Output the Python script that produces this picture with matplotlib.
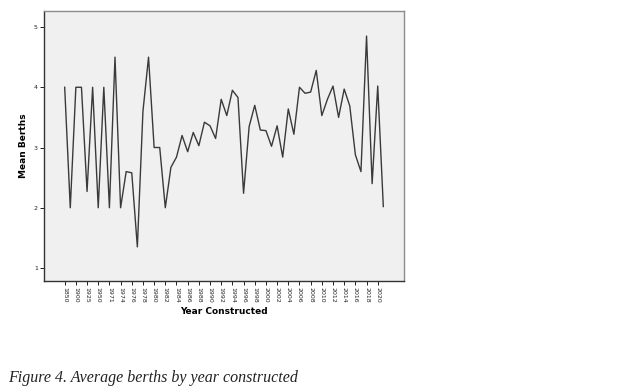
import matplotlib
matplotlib.use("Agg")
import matplotlib.pyplot as plt
import numpy as np

# Mean berths per construction-year category (58 categories)
mean_berths = [4.0, 2.0, 4.0, 4.0, 2.27, 4.0, 2.0, 4.0, 2.0, 4.5,
               2.0, 2.6, 2.58, 1.35, 3.6, 4.5, 3.0, 3.0, 2.0, 2.67,
               2.84, 3.2, 2.93, 3.25, 3.03, 3.42, 3.36, 3.15, 3.8, 3.53,
               3.95, 3.83, 2.24, 3.35, 3.7, 3.29, 3.28, 3.02, 3.36, 2.84,
               3.64, 3.22, 4.0, 3.9, 3.92, 4.28, 3.53, 3.8, 4.02, 3.5,
               3.97, 3.69, 2.88, 2.6, 4.85, 2.4, 4.02, 2.02]

# Labels shown on every other category
tick_labels = ["1850", "1900", "1925", "1950", "1971", "1974", "1976",
               "1978", "1980", "1982", "1984", "1986", "1988", "1990",
               "1992", "1994", "1996", "1998", "2000", "2002", "2004",
               "2006", "2008", "2010", "2012", "2014", "2016", "2018",
               "2020"]
y_ticks = [1, 2, 3, 4, 5]

fig = plt.figure(figsize=(6.35, 3.91), dpi=100)
ax = fig.add_axes([44/635, 1-281/391, 360/635, 270/391])
ax.set_facecolor("#f0f0f0")

x = np.arange(len(mean_berths))
ax.plot(x, mean_berths, color="#3a3a3a", lw=1.0)

ax.set_xlim(-3.7, 60.7)
ax.set_ylim(0.784, 5.266)
ax.set_xticks(x[::2][:len(tick_labels)])
ax.set_xticklabels(tick_labels, rotation=270, fontsize=4.5, color="#222222")
ax.set_yticks(y_ticks)
ax.set_yticklabels([str(v) for v in y_ticks], fontsize=4.5, color="#222222")
ax.tick_params(axis="both", direction="out", length=3, width=0.7, color="#222222", pad=1.5)

for side in ["top", "right"]:
    ax.spines[side].set_color("#8c8c8c")
    ax.spines[side].set_linewidth(1.0)
for side in ["left", "bottom"]:
    ax.spines[side].set_color("#333333")
    ax.spines[side].set_linewidth(1.0)

ax.set_ylabel("Mean Berths", fontsize=6.5, fontweight="bold", labelpad=4)
ax.set_xlabel("Year Constructed", fontsize=6.5, fontweight="bold", labelpad=3)

fig.text(8/635, 1-378/391, "Figure 4. Average berths by year constructed",
         family="Liberation Serif", style="italic", fontsize=11.5,
         va="center", ha="left", color="#222222")

fig.savefig("out.png", dpi=100, facecolor="white")
